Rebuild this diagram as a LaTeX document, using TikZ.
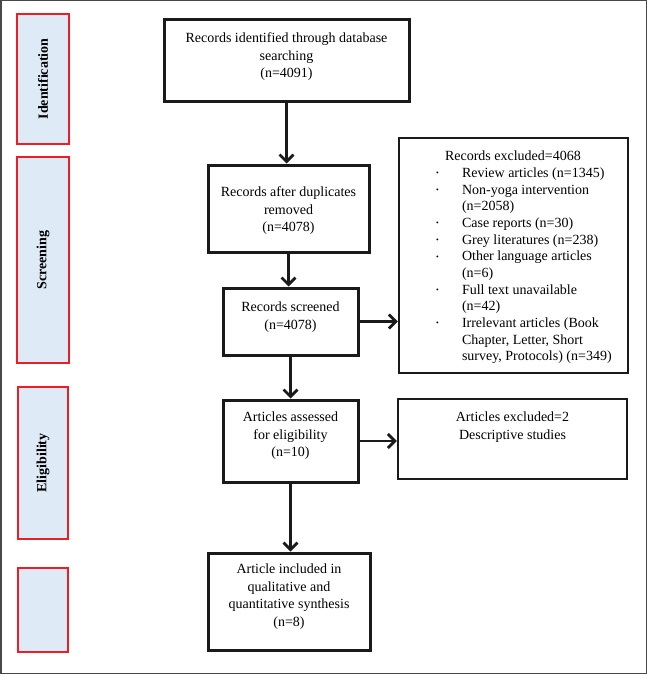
\documentclass[tikz,border=0pt]{standalone}
\usepackage{fontspec}
\setmainfont{Liberation Serif}
\usetikzlibrary{arrows.meta}
\definecolor{sidered}{HTML}{EE1C24}
\definecolor{sideblue}{HTML}{DEEAF6}
\definecolor{ink}{HTML}{1A1A1A}
\tikzset{
  every node/.style={font=\fontsize{14pt}{17.5pt}\selectfont},
  side/.style={draw=sidered, fill=sideblue, line width=2.6pt, inner sep=0pt, rotate=90, font=\fontsize{14pt}{17pt}\selectfont\bfseries},
  mainbox/.style={draw=ink, line width=3pt, inner sep=0pt},
  exbox/.style={draw=ink, line width=2.4pt, inner sep=0pt},
  flow/.style={line width=2.8pt, draw=ink, -{Straight Barb[length=7pt,width=14pt]}}
}
\newcommand{\topbox}[4]{\parbox[c][#2][t]{#1}{\centering\vspace*{#3}#4}}
\newcommand{\bl}{\hspace*{37pt}\makebox[26pt][l]{\raisebox{0.12em}{\scalebox{0.55}{\textbullet}}}}
\newcommand{\ct}{\hspace*{63pt}}
\begin{document}
\begin{tikzpicture}[x=1pt,y=-1pt]
\useasboundingbox (0,0) rectangle (647,674);
\draw[line width=1.5pt, draw=ink!80] (0.75,0.75) rectangle (646.25,673.25);

% side boxes
\node[side, minimum width=130pt, minimum height=52pt] (sid) at (43,79) {Identification};
\node[side, minimum width=206pt, minimum height=52pt] (sscr) at (43,260) {Screening};
\node[side, minimum width=152pt, minimum height=50pt] (selg) at (43,463) {Eligibility};
\node[side, minimum width=84pt, minimum height=50pt] (sinc) at (43,610) {};

% main boxes
\node[mainbox] (b1) at (286.5,61) {\topbox{245pt}{82pt}{13pt}{Records identified through database\\searching\\(n=4091)}};
\node[mainbox] (b2) at (288.5,208.5) {\topbox{161pt}{87pt}{22pt}{Records after duplicates\\removed\\(n=4078)}};
\node[mainbox] (b3) at (290.5,321.5) {\topbox{135pt}{67pt}{14pt}{Records screened\\(n=4078)}};
\node[mainbox] (b4) at (290.5,441) {\topbox{135pt}{82pt}{12pt}{Articles assessed\\for eligibility\\(n=10)}};
\node[mainbox] (b5) at (289,601.5) {\topbox{162pt}{97pt}{11pt}{Article included in\\qualitative and\\quantitative synthesis\\(n=8)}};

% exclusion boxes
\node[exbox] (ex1) at (513.5,255.5) {\parbox[c][235pt][t]{229pt}{\fontsize{14pt}{16.67pt}\selectfont\raggedright\vspace*{13pt}%
\hspace*{46pt}Records excluded=4068\\
\bl Review articles (n=1345)\\
\bl Non-yoga intervention\\
\ct (n=2058)\\
\bl Case reports (n=30)\\
\bl Grey literatures (n=238)\\
\bl Other language articles\\
\ct (n=6)\\
\bl Full text unavailable\\
\ct (n=42)\\
\bl Irrelevant articles (Book\\
\ct Chapter, Letter, Short\\
\ct survey, Protocols) (n=349)}};
\node[exbox] (ex2) at (512.5,439) {\topbox{229pt}{80pt}{13pt}{Articles excluded=2\\Descriptive studies}};

% connectors
\draw[flow] (b1.south) -- (b1.south |- b2.north);
\draw[flow] (b2.south) -- (b2.south |- b3.north);
\draw[flow] (b3.south) -- (b3.south |- b4.north);
\draw[flow] (b4.south) -- (b4.south |- b5.north);
\draw[flow] (b3.east) -- (ex1.west |- b3.east);
\draw[flow] (b4.east) -- (ex2.west |- b4.east);
\end{tikzpicture}
\end{document}
